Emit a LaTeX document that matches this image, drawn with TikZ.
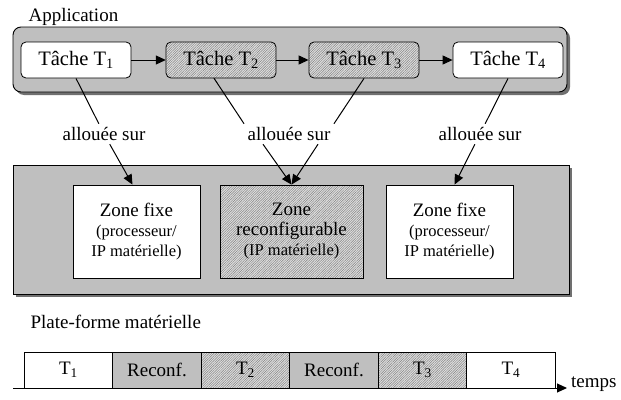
\documentclass[tikz,border=0pt]{standalone}
\usepackage{fontspec}
\setmainfont{Liberation Serif}
\usetikzlibrary{positioning,shadows,patterns.meta,arrows.meta}

\newcommand{\bigtxt}{\fontsize{19}{20}\selectfont}
\newcommand{\subtxt}{\fontsize{16.5}{20}\selectfont}

\tikzset{
    task/.style={draw, rounded corners=5pt, line width=0.8pt, minimum width=110pt, minimum height=36pt, font=\fontsize{20.5}{22}\selectfont},
    hatched/.style={preaction={fill=gray!25}, pattern={Lines[angle=45, distance=1.7pt, line width=0.45pt]}, pattern color=black!50},
    zone/.style={draw, line width=0.8pt, minimum height=93pt, align=center, font=\bigtxt},
    seg/.style={draw, line width=0.8pt, minimum width=88.5pt, minimum height=36pt, outer sep=0pt, font=\bigtxt},
    alloc/.style={font=\fontsize{19}{20}\selectfont},
    link/.style={line width=1pt},
    shadowbox/.style={draw, line width=0.9pt, fill=gray!50, drop shadow={shadow xshift=3pt, shadow yshift=-3pt, opacity=0.7, fill=black!80}},
}

\begin{document}
\begin{tikzpicture}[x=1pt, y=-1pt, >={Triangle[length=10pt, width=9pt]}]
    \useasboundingbox (0,0) rectangle (621,399);

    % application
    \node[anchor=west, font=\bigtxt] (appname) at (25,17) {Application};
    \draw[shadowbox, rounded corners=8pt] (13,27) rectangle (567,92);

    \node[task, fill=white] (t1) at (76,60) {Tâche T\textsubscript{1}};
    \node[task, hatched] (t2) at (221,60) {Tâche T\textsubscript{2}};
    \node[task, hatched] (t3) at (364,60) {Tâche T\textsubscript{3}};
    \node[task, fill=white] (t4) at (508,60) {Tâche T\textsubscript{4}};

    \draw[link, ->] (t1) -- (t2);
    \draw[link, ->] (t2) -- (t3);
    \draw[link, ->] (t3) -- (t4);

    % platform
    \draw[shadowbox] (13,165) rectangle (569,294);

    \node[zone, fill=white, minimum width=127pt] (zfix1) at (136.5,231.5)
        {Zone fixe\\{\subtxt (processeur/}\\{\subtxt IP matérielle)}};
    \node[zone, hatched, minimum width=143pt] (zreconf) at (291.5,231.5)
        {Zone\\reconfigurable\\{\subtxt (IP matérielle)}};
    \node[zone, fill=white, minimum width=127pt] (zfix2) at (449.5,231.5)
        {Zone fixe\\{\subtxt (processeur/}\\{\subtxt IP matérielle)}};

    \node[anchor=west, font=\bigtxt] (platname) at (27,322) {Plate-forme matérielle};

    % allocation
    \node[alloc] (alloc1) at (104,134) {allouée sur};
    \node[alloc] (alloc2) at (289,134) {allouée sur};
    \node[alloc] (alloc3) at (480,134) {allouée sur};

    \draw[link] (t1.south) -- (alloc1);
    \draw[link] ([xshift=-7pt]t2.south) -- (alloc2.north west);
    \draw[link] (t3.south) -- (alloc2.north east);
    \draw[link] (t4.south) -- (alloc3);

    \draw[link, ->] (alloc1) -- ([xshift=-4pt]zfix1.north);
    \draw[link, ->] ([xshift=-26pt]alloc2.south) -- (zreconf.north);
    \draw[link, ->] ([xshift=29pt]alloc2.south) -- (zreconf.north);
    \draw[link, ->] (alloc3) -- ([xshift=5pt]zfix2.north);

    % timeline
    \node[seg, fill=white] (s1) at (68.5,370) {T\textsubscript{1}};
    \node[seg, fill=gray!50, right=0pt of s1] (s2) {Reconf.};
    \node[seg, hatched, right=0pt of s2] (s3) {T\textsubscript{2}};
    \node[seg, fill=gray!50, right=0pt of s3] (s4) {Reconf.};
    \node[seg, hatched, right=0pt of s4] (s5) {T\textsubscript{3}};
    \node[seg, fill=white, right=0pt of s5] (s6) {T\textsubscript{4}};

    \coordinate (ax0) at (13,388);
    \coordinate (ax1) at (567,388);
    \draw[link, ->] (ax0) -- (ax1);
    \node[anchor=base west, font=\bigtxt, inner xsep=2pt] (temps) at (569,387) {temps};
\end{tikzpicture}
\end{document}
